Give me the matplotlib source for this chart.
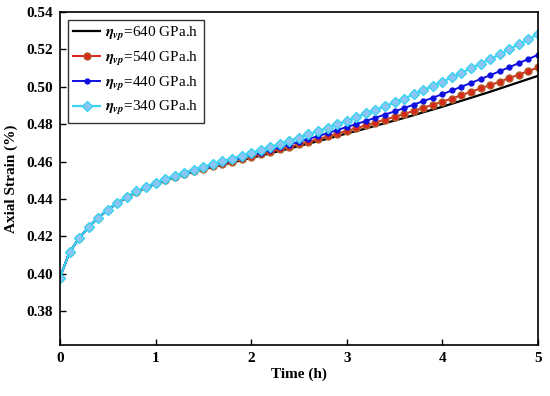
import numpy as np
import matplotlib
matplotlib.use('Agg')
import matplotlib.pyplot as plt

# time in hours, one point every 0.1 h
time_h = np.round(np.arange(0, 5.01, 0.1), 1)

strain_640 = [0.3980, 0.4115, 0.4190, 0.4250, 0.4300, 0.4342, 0.4378, 0.4410, 0.4437, 0.4461,
              0.4482, 0.4500, 0.4516, 0.4531, 0.4545, 0.4558, 0.4571, 0.4583, 0.4595, 0.4607,
              0.4620, 0.4632, 0.4644, 0.4657, 0.4670, 0.4683, 0.4696, 0.4709, 0.4722, 0.4736,
              0.4750, 0.4763, 0.4777, 0.4791, 0.4805, 0.4819, 0.4833, 0.4848, 0.4863, 0.4878,
              0.4893, 0.4909, 0.4925, 0.4941, 0.4957, 0.4973, 0.4990, 0.5007, 0.5024, 0.5041,
              0.5058]
strain_540 = [0.3980, 0.4115, 0.4190, 0.4250, 0.4300, 0.4342, 0.4378, 0.4410, 0.4437, 0.4462,
              0.4483, 0.4501, 0.4518, 0.4533, 0.4547, 0.4561, 0.4574, 0.4587, 0.4599, 0.4612,
              0.4625, 0.4638, 0.4651, 0.4665, 0.4678, 0.4692, 0.4706, 0.4720, 0.4734, 0.4749,
              0.4764, 0.4778, 0.4793, 0.4808, 0.4824, 0.4839, 0.4854, 0.4871, 0.4887, 0.4903,
              0.4920, 0.4937, 0.4955, 0.4973, 0.4991, 0.5008, 0.5027, 0.5046, 0.5065, 0.5084,
              0.5103]
strain_440 = [0.3980, 0.4115, 0.4190, 0.4250, 0.4300, 0.4343, 0.4379, 0.4411, 0.4439, 0.4463,
              0.4485, 0.4503, 0.4520, 0.4536, 0.4551, 0.4565, 0.4579, 0.4592, 0.4606, 0.4619,
              0.4634, 0.4647, 0.4661, 0.4676, 0.4691, 0.4706, 0.4721, 0.4736, 0.4752, 0.4768,
              0.4785, 0.4800, 0.4817, 0.4834, 0.4851, 0.4868, 0.4886, 0.4904, 0.4923, 0.4941,
              0.4960, 0.4980, 0.5000, 0.5020, 0.5041, 0.5061, 0.5083, 0.5104, 0.5126, 0.5148,
              0.5170]
strain_340 = [0.3980, 0.4115, 0.4190, 0.4250, 0.4301, 0.4343, 0.4380, 0.4412, 0.4440, 0.4465,
              0.4487, 0.4507, 0.4524, 0.4541, 0.4557, 0.4572, 0.4587, 0.4602, 0.4616, 0.4631,
              0.4647, 0.4662, 0.4678, 0.4694, 0.4711, 0.4728, 0.4745, 0.4763, 0.4781, 0.4800,
              0.4819, 0.4837, 0.4857, 0.4876, 0.4896, 0.4917, 0.4937, 0.4959, 0.4981, 0.5004,
              0.5026, 0.5050, 0.5074, 0.5098, 0.5123, 0.5147, 0.5173, 0.5200, 0.5226, 0.5253,
              0.5280]

labels = ['640', '540', '440', '340']

plt.rcParams['font.family'] = 'Liberation Serif'
plt.rcParams['mathtext.fontset'] = 'stix'

fig = plt.figure(figsize=(5.5, 3.96), dpi=100)
ax = fig.add_axes([0.109, 0.129, 0.869, 0.841])

def lab(v):
    return r'$\mathbfit{\eta}_{\mathbfit{vp}}$=' + v + ' GPa.h'

ax.plot(time_h, strain_640, color='black', lw=1.6, label=lab(labels[0]))
ax.plot(time_h, strain_540, color='#e0201b', lw=1.4, marker='o', ms=5,
        mfc='#d8281c', mec='#b0602a', mew=1.0, label=lab(labels[1]))
ax.plot(time_h, strain_440, color='#1010e0', lw=1.4, marker='o', ms=3.5,
        mfc='#1010e0', mec='#1010e0', label=lab(labels[2]))
ax.plot(time_h, strain_340, color='#38d4f0', lw=1.6, marker='D', ms=5,
        mfc='#8cc4f4', mec='#38d4f0', mew=1.0, label=lab(labels[3]))

ax.set_xlim(0, 5)
ax.set_ylim(0.362, 0.54)
ax.set_xticks([0, 1, 2, 3, 4, 5])
ax.set_yticks(np.arange(0.38, 0.541, 0.02))
ax.set_yticklabels(['%.2f' % v for v in np.arange(0.38, 0.541, 0.02)])
ax.tick_params(direction='in', length=4, width=1.0, labelsize=11, pad=5)
for t in ax.get_xticklabels() + ax.get_yticklabels():
    t.set_fontweight('bold')
for s in ax.spines.values():
    s.set_linewidth(1.2)

ax.set_xlabel('Time (h)', fontsize=11, fontweight='bold', labelpad=2)
ax.set_ylabel('Axial Strain (%)', fontsize=11, fontweight='bold', labelpad=6)

leg = ax.legend(loc='upper left', fontsize=11, frameon=True, fancybox=False,
                edgecolor='black', handlelength=1.8, handletextpad=0.3,
                borderpad=0.35, labelspacing=0.45, borderaxespad=0.5)
leg.get_frame().set_linewidth(1.0)

plt.savefig('out.png', dpi=100)
plt.close('all')
